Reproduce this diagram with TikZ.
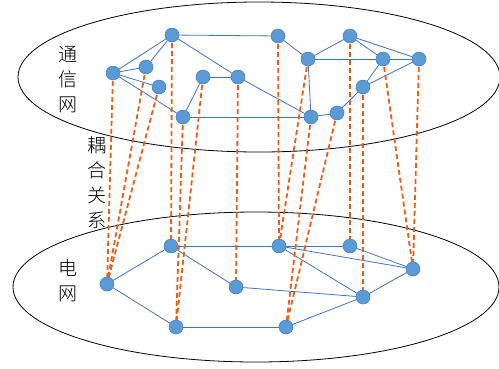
\documentclass[tikz,border=0pt]{standalone}
\usepackage{fontspec}
\newfontfamily\cjk{Noto Sans CJK SC Light}
\usetikzlibrary{backgrounds}
\definecolor{knotenblau}{RGB}{91,155,213}
\definecolor{randblau}{RGB}{65,125,190}
\definecolor{kantenblau}{RGB}{68,114,196}
\definecolor{kopplung}{RGB}{232,96,22}
\begin{document}
\begin{tikzpicture}[x=1pt,y=-1pt,
	knoten/.style={circle,fill=knotenblau,draw=randblau,line width=0.5pt,minimum size=14pt,inner sep=0pt},
	kante/.style={kantenblau,line width=0.8pt},
	koppel/.style={kopplung,line width=1.8pt,dash pattern=on 5pt off 3pt},
	schrift/.style={font=\cjk\fontsize{19}{25}\selectfont,align=center,inner sep=0pt}]
	\useasboundingbox (0,0) rectangle (499,368);
	
	% Knoten des Kommunikationsnetzes
	\foreach \n/\x/\y in {1/172/35,2/113/73,3/146/67,4/159/87,5/203/77,6/238/77,7/183/117,8/278/36,
		9/308/59,10/350/36,11/383/59,12/419/59,13/363/87,14/337/113,15/311/117} {
		\node[knoten] (k\n) at (\x,\y) {};
	}
	
	% Knoten des Stromnetzes
	\foreach \n/\x/\y in {1/107/284,2/171/246,3/176/327,4/236/287,5/279/246,6/350/246,7/413/269,8/363/297,9/286/327} {
		\node[knoten] (s\n) at (\x,\y) {};
	}
	
	% Beschriftung
	\node[schrift] (tongxin) at (68,80) {通\\信\\网};
	\node[schrift] (ouhe) at (97,183) {耦\\合\\关\\系};
	\node[schrift] (dianwang) at (68,280.5) {电\\网};
	
	\begin{scope}[on background layer]
		% Ebenen
		\draw[line width=0.8pt] (259,77) ellipse [x radius=241, y radius=75];
		\draw[line width=0.8pt] (256,287) ellipse [x radius=243, y radius=75];
		
		% Kanten im Kommunikationsnetz
		\foreach \a/\b in {1/2,1/3,1/6,1/8,2/3,2/4,2/7,5/6,5/7,6/15,7/15,15/14,14/13,8/9,9/10,9/11,9/15,10/11,10/12,11/12,11/13,13/12} {
			\draw[kante] (k\a) -- (k\b);
		}
		
		% Kanten im Stromnetz
		\foreach \a/\b in {1/2,1/3,2/5,2/4,3/9,4/8,5/6,5/7,5/8,6/7,7/8,9/8} {
			\draw[kante] (s\a) -- (s\b);
		}
		
		% Kopplungen zwischen den Netzen
		\foreach \a/\b in {2/1,3/1,4/1,1/2,7/3,5/3,6/4,8/5,9/5,15/9,14/9,10/6,13/8,11/7,12/7} {
			\draw[koppel] (k\a.center) -- (s\b.center);
		}
	\end{scope}
	
\end{tikzpicture}
\end{document}
